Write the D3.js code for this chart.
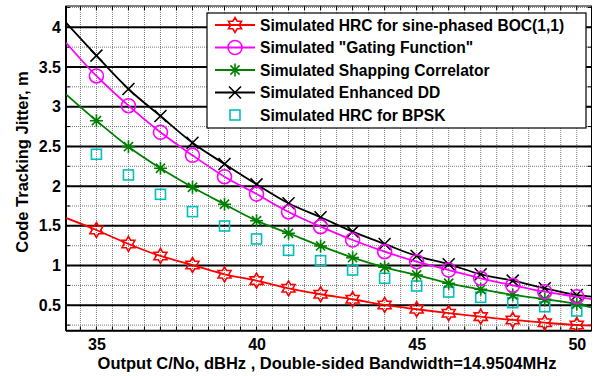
<!DOCTYPE html>
<html>
<head>
<meta charset="utf-8">
<script src="https://cdn.jsdelivr.net/npm/d3@7/dist/d3.min.js"></script>
<style>
  html, body { margin: 0; padding: 0; background: #fff; }
  svg { display: block; }
  text { font-family: "Liberation Sans", Arial, sans-serif; font-weight: bold; fill: #000; }
</style>
</head>
<body>
<svg id="chart" width="597" height="376"></svg>
<script>
// Output C/N0 (dBHz) at which each tracking scheme was simulated
const cn0 = [35, 36, 37, 38, 39, 40, 41, 42, 43, 44, 45, 46, 47, 48, 49, 50];

// Code tracking jitter (m) per scheme
const hrcBoc   = [1.448, 1.272, 1.121, 1.007, 0.890, 0.810, 0.714, 0.639, 0.576, 0.504, 0.450, 0.400, 0.357, 0.315, 0.281, 0.252];
const gating   = [3.387, 3.013, 2.678, 2.388, 2.119, 1.900, 1.675, 1.490, 1.322, 1.175, 1.049, 0.944, 0.840, 0.752, 0.671, 0.608];
const shaping  = [2.824, 2.497, 2.225, 1.986, 1.772, 1.565, 1.407, 1.247, 1.100, 0.978, 0.882, 0.777, 0.701, 0.630, 0.576, 0.516];
const enhDD    = [3.643, 3.223, 2.883, 2.547, 2.279, 2.023, 1.784, 1.608, 1.427, 1.272, 1.121, 1.016, 0.890, 0.810, 0.714, 0.630];
const hrcBpsk  = [2.401, 2.141, 1.897, 1.679, 1.498, 1.335, 1.192, 1.062, 0.944, 0.840, 0.743, 0.667, 0.600, 0.533, 0.482, 0.428];

// Curve values at the two ends of the plotted C/N0 range
const xLimits = [34.05, 50.46];
const hrcBocEnds  = [1.600, 0.243];
const gatingEnds  = [3.806, 0.576];
const shapingEnds = [3.156, 0.475];
const enhDDEnds   = [4.058, 0.608];

// Axis ranges and ticks
const yLimits = [0.18, 4.268];
const xTicks = [35, 40, 45, 50];
const yTicks = [0.5, 1, 1.5, 2, 2.5, 3, 3.5, 4];

const legendLabels = [
  "Simulated HRC for sine-phased BOC(1,1)",
  "Simulated \"Gating Function\"",
  "Simulated Shapping Correlator",
  "Simulated Enhanced DD",
  "Simulated HRC for BPSK"
];

const svg = d3.select("#chart");
const plot = { left: 66, right: 591.5, top: 6, bottom: 330.7 };

const x = d3.scaleLinear().domain(xLimits).range([plot.left, plot.right]);
const y = d3.scaleLinear().domain(yLimits).range([plot.bottom, plot.top]);

// ---- grid ----
const grid = svg.append("g");
const xMinor = d3.range(34.5, 50.46, 0.5);
const yMinor = d3.range(0.25, 4.26, 0.25).filter(v => Math.abs(v * 2 - Math.round(v * 2)) > 1e-6);

grid.selectAll(".vgrid").data(xMinor).join("line")
  .attr("x1", d => x(d)).attr("x2", d => x(d))
  .attr("y1", plot.top).attr("y2", plot.bottom)
  .attr("stroke", "#7a7a7a").attr("stroke-width", 1).attr("stroke-dasharray", "1,1");

grid.selectAll(".hminor").data(yMinor).join("line")
  .attr("x1", plot.left).attr("x2", plot.right)
  .attr("y1", d => y(d)).attr("y2", d => y(d))
  .attr("stroke", "#7a7a7a").attr("stroke-width", 1).attr("stroke-dasharray", "1,1");

grid.selectAll(".hmajor").data(yTicks).join("line")
  .attr("x1", plot.left).attr("x2", plot.right)
  .attr("y1", d => y(d)).attr("y2", d => y(d))
  .attr("stroke", "#000").attr("stroke-width", 2);

// ---- inward tick marks on all four sides ----
const ticks = svg.append("g").attr("stroke", "#000").attr("stroke-width", 1);
xMinor.forEach(v => {
  ticks.append("line").attr("x1", x(v)).attr("x2", x(v)).attr("y1", plot.bottom).attr("y2", plot.bottom - 4);
  ticks.append("line").attr("x1", x(v)).attr("x2", x(v)).attr("y1", plot.top).attr("y2", plot.top + 4);
});
d3.range(0.25, 4.26, 0.25).forEach(v => {
  ticks.append("line").attr("x1", plot.left).attr("x2", plot.left + 4).attr("y1", y(v)).attr("y2", y(v));
  ticks.append("line").attr("x1", plot.right).attr("x2", plot.right - 4).attr("y1", y(v)).attr("y2", y(v));
});

// ---- axes ----
const xAxis = d3.axisBottom(x).tickValues(xTicks).tickSize(0).tickPadding(8).tickFormat(d3.format("d"));
const yAxis = d3.axisLeft(y).tickValues(yTicks).tickSize(0).tickPadding(5).tickFormat(d => d3.format("~g")(d));

svg.append("g").attr("transform", `translate(0,${plot.bottom})`).call(xAxis)
  .call(g => g.select(".domain").remove())
  .selectAll("text").attr("font-size", 16).style("font-family", "Liberation Sans, Arial, sans-serif").attr("font-weight", "bold").attr("fill", "#000");
svg.append("g").attr("transform", `translate(${plot.left},0)`).call(yAxis)
  .call(g => g.select(".domain").remove())
  .selectAll("text").attr("font-size", 16).style("font-family", "Liberation Sans, Arial, sans-serif").attr("font-weight", "bold").attr("fill", "#000");

// frame
svg.append("rect")
  .attr("x", plot.left).attr("y", plot.top)
  .attr("width", plot.right - plot.left).attr("height", plot.bottom - plot.top)
  .attr("fill", "none").attr("stroke", "#000").attr("stroke-width", 1);
svg.append("line").attr("x1", plot.left).attr("x2", plot.right).attr("y1", plot.bottom).attr("y2", plot.bottom)
  .attr("stroke", "#000").attr("stroke-width", 2);
svg.append("line").attr("x1", plot.left).attr("x2", plot.left).attr("y1", plot.top).attr("y2", plot.bottom)
  .attr("stroke", "#000").attr("stroke-width", 2);

// axis titles
svg.append("text")
  .attr("x", 327).attr("y", 369)
  .attr("text-anchor", "middle").attr("font-size", 16.5)
  .text("Output C/No, dBHz , Double-sided Bandwidth=14.9504MHz");
svg.append("text")
  .attr("transform", `translate(28,162) rotate(-90)`)
  .attr("text-anchor", "middle").attr("font-size", 16.5)
  .text("Code Tracking Jitter, m");

// ---- markers ----
function hexagramPath(r) {
  const ri = r * 0.577;
  const pts = [];
  for (let i = 0; i < 12; i++) {
    const a = -Math.PI / 2 + i * Math.PI / 6;
    const rr = i % 2 === 0 ? r : ri;
    pts.push([rr * Math.cos(a), rr * Math.sin(a)]);
  }
  return "M" + pts.map(p => p[0].toFixed(2) + "," + p[1].toFixed(2)).join("L") + "Z";
}
const markers = {
  hexagram: g => g.append("path").attr("d", hexagramPath(7.5)).attr("fill", "none"),
  circle: g => g.append("circle").attr("r", 7).attr("fill", "none"),
  asterisk: g => g.append("path").attr("fill", "none")
      .attr("d", "M0,-6.5L0,6.5M-6.5,0L6.5,0M-4.6,-4.6L4.6,4.6M-4.6,4.6L4.6,-4.6"),
  cross: g => g.append("path").attr("fill", "none").attr("d", "M-6,-6L6,6M-6,6L6,-6"),
  square: g => g.append("rect").attr("x", -5).attr("y", -5).attr("width", 10).attr("height", 10).attr("fill", "none")
};

const series = [
  { values: hrcBoc,  ends: hrcBocEnds,  color: "#ff0000", marker: "hexagram", line: true },
  { values: gating,  ends: gatingEnds,  color: "#ff00ff", marker: "circle",   line: true },
  { values: shaping, ends: shapingEnds, color: "#008000", marker: "asterisk", line: true },
  { values: enhDD,   ends: enhDDEnds,   color: "#000000", marker: "cross",    line: true },
  { values: hrcBpsk, ends: null,        color: "#00bfbf", marker: "square",   line: false }
];

svg.append("clipPath").attr("id", "plotClip").append("rect")
  .attr("x", plot.left).attr("y", plot.top)
  .attr("width", plot.right - plot.left).attr("height", plot.bottom - plot.top);

const lineGen = d3.line().x(d => x(d[0])).y(d => y(d[1])).curve(d3.curveMonotoneX);
const layer = svg.append("g").attr("clip-path", "url(#plotClip)");

// draw in reverse so the first series ends up on top
series.slice().reverse().forEach(s => {
  if (s.line) {
    const pts = [[xLimits[0], s.ends[0]], ...cn0.map((c, i) => [c, s.values[i]]), [xLimits[1], s.ends[1]]];
    layer.append("path").datum(pts).attr("d", lineGen)
      .attr("fill", "none").attr("stroke", s.color).attr("stroke-width", 1.8);
  }
  cn0.forEach((c, i) => {
    const g = layer.append("g")
      .attr("transform", `translate(${x(c)},${y(s.values[i])})`)
      .attr("stroke", s.color).attr("stroke-width", 1.6);
    markers[s.marker](g);
  });
});

// ---- legend ----
const leg = svg.append("g");
leg.append("rect").attr("x", 207).attr("y", 13).attr("width", 379).attr("height", 115)
  .attr("fill", "#fff").attr("stroke", "#000").attr("stroke-width", 1.2);
series.forEach((s, i) => {
  const cy = 25 + i * 22.5;
  if (s.line) {
    leg.append("line").attr("x1", 215).attr("x2", 255).attr("y1", cy).attr("y2", cy)
      .attr("stroke", s.color).attr("stroke-width", 1.8);
  }
  const g = leg.append("g").attr("transform", `translate(235,${cy})`)
    .attr("stroke", s.color).attr("stroke-width", 1.6);
  markers[s.marker](g);
  leg.append("text").attr("x", 260).attr("y", cy).attr("dy", "0.36em")
    .attr("font-size", 15.6).text(legendLabels[i]);
});
</script>
</body>
</html>
